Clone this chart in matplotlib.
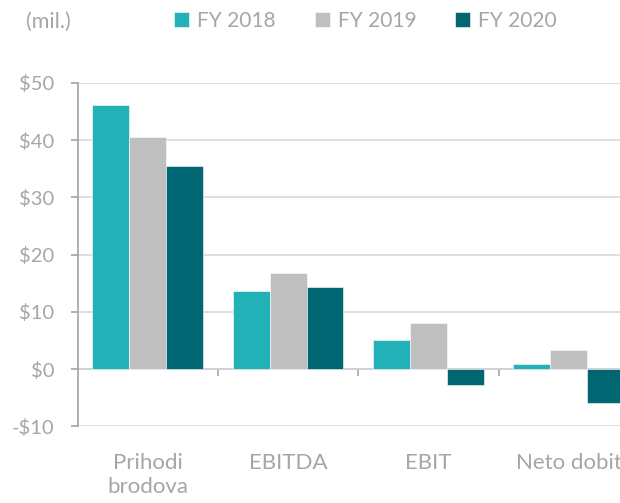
import matplotlib
matplotlib.use("Agg")
import numpy as np
import matplotlib.pyplot as plt
from matplotlib.ticker import FuncFormatter

# 데이터
categories = ["Prihodi\nbrodova", "EBITDA", "EBIT", "Neto dobit"]
series_names = ["FY 2018", "FY 2019", "FY 2020"]
fy2018 = [46.1, 13.6, 5.0, 0.9]
fy2019 = [40.6, 16.7, 8.0, 3.4]
fy2020 = [35.5, 14.3, -2.8, -5.9]
colors = ["#21B1B7", "#BFBFBF", "#006672"]

TXT = "#A6A6A6"
plt.rcParams["font.family"] = ["Lato", "DejaVu Sans"]

fig = plt.figure(figsize=(6.2, 5.03), dpi=100)
# 오른쪽이 잘려 있는 원본처럼 축을 그림 밖까지 늘림 (Neto dobit 라벨도 잘림)
ax = fig.add_axes([0.1253, 0.1525, 0.905, 0.683])

x = np.arange(len(categories))
w = 0.263
for i, (vals, name, c) in enumerate(zip([fy2018, fy2019, fy2020], series_names, colors)):
    ax.bar(x + (i - 1) * w, vals, width=w, color=c, label=name,
           edgecolor="white", linewidth=0.4, zorder=3)

ax.set_xlim(-0.5, 3.5)
ax.set_ylim(-10, 50)
ax.set_yticks(range(-10, 51, 10))
ax.yaxis.set_major_formatter(FuncFormatter(lambda v, p: f"-${-v:.0f}" if v < 0 else f"${v:.0f}"))
ax.grid(axis="y", color="#D9D9D9", linewidth=1.2, zorder=0)

for s in ["top", "right", "bottom"]:
    ax.spines[s].set_visible(False)
ax.spines["left"].set_color("#A0A4A8")
ax.spines["left"].set_linewidth(1.2)
ax.tick_params(axis="y", colors="#A0A4A8", labelcolor=TXT, labelsize=14.5,
               length=5, width=1.2, pad=12)

# 카테고리 라벨은 아래쪽, 눈금선은 0 위치
ax.set_xticks(x)
ax.set_xticklabels(categories, linespacing=1.3)
ax.tick_params(axis="x", length=0, labelcolor=TXT, labelsize=16, pad=19)

zero_ax = ax.secondary_xaxis(10 / 60)
zero_ax.set_xticks([0.5, 1.5, 2.5])
zero_ax.set_xticklabels([])
zero_ax.spines["bottom"].set_color("#A0A4A8")
zero_ax.spines["bottom"].set_linewidth(1.2)
zero_ax.tick_params(axis="x", direction="out", length=5, width=1.2, colors="#A0A4A8")

fig.text(0.042, 0.956, "(mil.)", color=TXT, fontsize=15.5, va="center")
leg = fig.legend(loc="center", bbox_to_anchor=(0.5895, 0.958), ncol=3, frameon=False,
                 fontsize=15, labelcolor=TXT, handlelength=0.72, handleheight=0.72,
                 handletextpad=0.38, columnspacing=1.87)

fig.savefig("out.png", dpi=100)
